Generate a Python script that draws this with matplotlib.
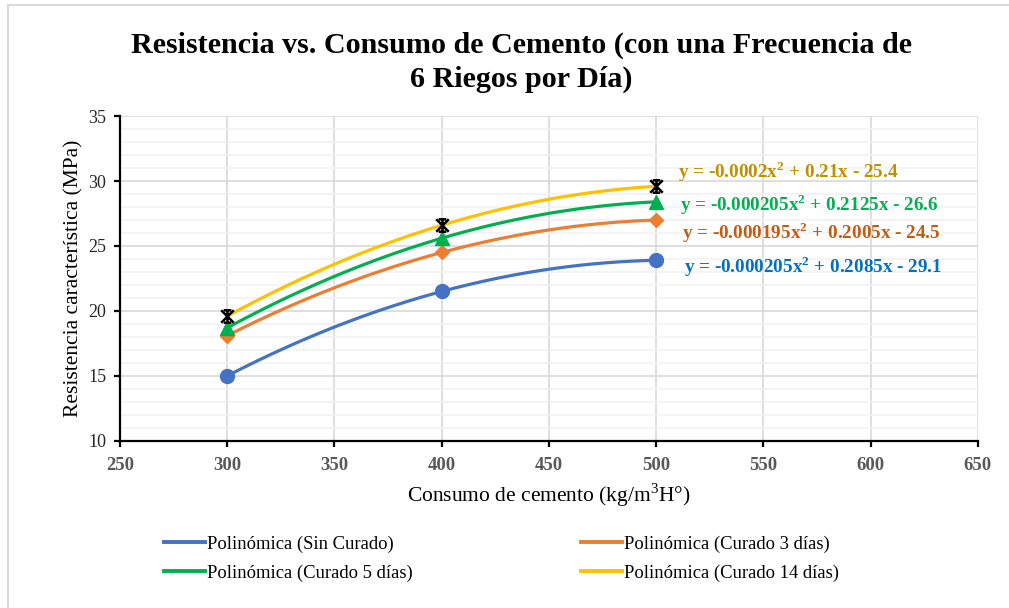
import matplotlib
matplotlib.use("Agg")
import matplotlib.pyplot as plt
from matplotlib.lines import Line2D
from matplotlib.path import Path
from matplotlib.ticker import MultipleLocator
import numpy as np

plt.rcParams['font.family'] = ['Liberation Serif', 'DejaVu Serif']
plt.rcParams['mathtext.fontset'] = 'custom'
plt.rcParams['mathtext.rm'] = 'Liberation Serif'
plt.rcParams['mathtext.bf'] = 'Liberation Serif:bold'

# cement content (kg/m3) and characteristic strength (MPa) per curing case
consumo = [300, 400, 500]
sin_curado = [15.0, 21.5, 23.9]
curado_3 = [18.1, 24.5, 27.0]
curado_5 = [18.7, 25.6, 28.4]
curado_14 = [19.6, 26.6, 29.6]

nombres = ['Sin Curado', 'Curado 3 días', 'Curado 5 días', 'Curado 14 días']
ecuaciones = [
    'y = -0.000205x$^{\\mathbf{2}}$ + 0.2085x - 29.1',
    'y = -0.000195x$^{\\mathbf{2}}$ + 0.2005x - 24.5',
    'y = -0.000205x$^{\\mathbf{2}}$ + 0.2125x - 26.6',
    'y = -0.0002x$^{\\mathbf{2}}$ + 0.21x - 25.4',
]

colores = ['#4472C4', '#ED7D31', '#00B050', '#FFC000']
colores_ec = ['#0070C0', '#C55A11', '#00B050', '#BF9000']

# asterisk-like marker used for the 14-day series
estrella = Path(
    [(-1, 1), (1, -1), (1, 1), (-1, -1), (-0.6, 1), (0.6, 1), (-0.6, -1), (0.6, -1), (0, 1), (0, -1)],
    [Path.MOVETO, Path.LINETO, Path.MOVETO, Path.LINETO, Path.MOVETO, Path.LINETO,
     Path.MOVETO, Path.LINETO, Path.MOVETO, Path.LINETO])
marcadores = ['o', 'D', '^', estrella]
tamanos = [10, 7.5, 9.5, 9]

fig = plt.figure(figsize=(10.09, 6.08), dpi=100)
ax = fig.add_axes([0.119, 0.275, 0.85, 0.534])

series = [sin_curado, curado_3, curado_5, curado_14]
xs = np.linspace(consumo[0], consumo[-1], 200)
for i, ys in enumerate(series):
    coef = np.polyfit(consumo, ys, 2)
    ax.plot(xs, np.polyval(coef, xs), color=colores[i], lw=2.3, zorder=3)
    if i == 3:
        ax.plot(consumo, ys, ls='none', marker=marcadores[i], ms=tamanos[i],
                mfc='none', mec='black', mew=1.8, zorder=4)
    else:
        ax.plot(consumo, ys, ls='none', marker=marcadores[i], ms=tamanos[i],
                color=colores[i], zorder=4)

# trendline equations
pos_ec = [(513, 23.45), (512, 26.0), (511, 28.15), (510, 30.75)]
for i, (px, py) in enumerate(pos_ec):
    ax.text(px, py, ecuaciones[i], color=colores_ec[i], fontsize=13.8,
            fontweight='bold', va='center', ha='left', zorder=5)

ax.set_xlim(250, 650)
ax.set_ylim(10, 35)
ax.xaxis.set_major_locator(MultipleLocator(50))
ax.yaxis.set_major_locator(MultipleLocator(5))
ax.yaxis.set_minor_locator(MultipleLocator(1))
ax.grid(which='major', color='#D9D9D9', lw=1.2, zorder=0)
ax.grid(which='minor', axis='y', color='#F2F2F2', lw=1.2, zorder=0)
ax.set_axisbelow(True)
for s in ['top', 'right']:
    ax.spines[s].set_visible(False)
for s in ['left', 'bottom']:
    ax.spines[s].set_linewidth(1.6)
ax.tick_params(which='major', direction='out', length=4, width=1.6)
ax.tick_params(which='minor', length=0)
ax.tick_params(axis='y', labelsize=13, labelcolor='#262626', pad=6)
ax.tick_params(axis='x', labelsize=13.5, labelcolor='#595959', pad=8)
for lab in ax.get_xticklabels():
    lab.set_fontweight('bold')

ax.set_xlabel('Consumo de cemento (kg/m$^3$H°)', fontsize=15.5, labelpad=5)
ax.set_ylabel('Resistencia característica (MPa)', fontsize=15.5, labelpad=3)

fig.text(0.517, 0.897, 'Resistencia vs. Consumo de Cemento (con una Frecuencia de\n6 Riegos por Día)',
         ha='center', va='center', fontsize=21.7, fontweight='bold', linespacing=1.33)

# legend with only the polynomial trendlines
handles = [Line2D([], [], color=c, lw=2.8) for c in colores]
labels = ['Polinómica (%s)' % n for n in nombres]
orden = [0, 2, 1, 3]
fig.legend([handles[k] for k in orden], [labels[k] for k in orden],
           loc='center', bbox_to_anchor=(0.497, 0.081), ncol=2, frameon=False,
           fontsize=13.4, handlelength=2.2, handletextpad=0.1, columnspacing=9.05,
           labelspacing=0.62)

# chart area border (top and left edges)
fig.add_artist(Line2D([0.0075, 1], [0.991, 0.991], color='#D9D9D9', lw=1.5, transform=fig.transFigure))
fig.add_artist(Line2D([0.0075, 0.0075], [0, 0.991], color='#D9D9D9', lw=1.5, transform=fig.transFigure))

fig.savefig('out.png', dpi=100)
